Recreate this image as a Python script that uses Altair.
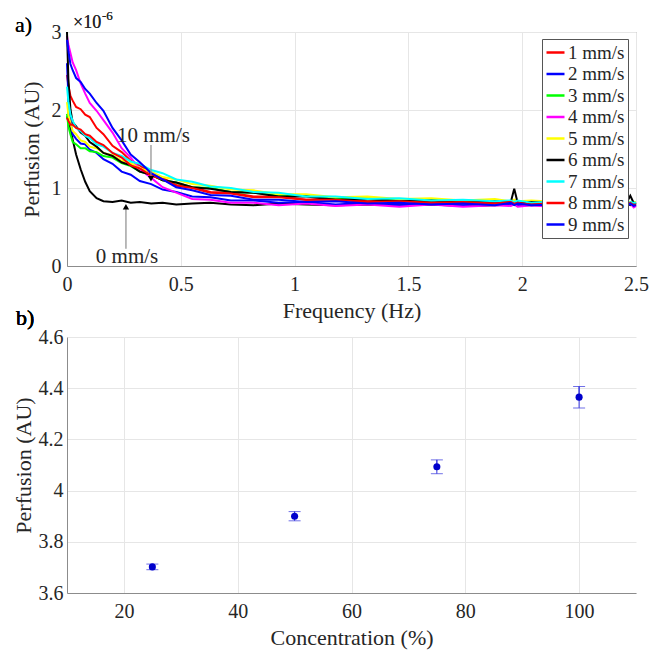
import altair as alt
import pandas as pd

FONT = "Liberation Serif, Times New Roman, serif"

# ---------------- panel a) data ----------------
FREQ_HZ = [0, 60, 150, 250, 400, 600, 800, 1000, 1300, 1600, 2000, 2400, 2800, 3200,
           3700, 4200, 4800, 5500, 6300, 7200, 8200, 9300, 10500, 11800, 13200, 14600,
           16000, 17400, 18800, 19500, 19650, 19800, 20400, 21600, 22800, 24000, 24600,
           24750, 24900, 25000]

SPEEDS = ["1 mm/s", "2 mm/s", "3 mm/s", "4 mm/s", "5 mm/s", "6 mm/s", "7 mm/s", "8 mm/s", "9 mm/s"]
COLORS = ["#ff0000", "#0000ff", "#00ff00", "#ff00ff", "#ffff00", "#000000", "#00ffff", "#ff0000", "#0000ff"]

# perfusion in units of 1e-6
V0 = [1.92, 1.86, 1.76, 1.62, 1.43, 1.24, 1.08, 0.96, 0.87, 0.83, 0.82, 0.84, 0.81, 0.82, 0.80, 0.81, 0.79, 0.80,
      0.81, 0.79, 0.78, 0.80, 0.79, 0.78, 0.79, 0.78, 0.79, 0.77, 0.78, 0.79, 0.80, 0.78, 0.78, 0.79, 0.78, 0.79,
      0.80, 0.78, 0.80, 0.79]
V1 = [2.45, 2.32, 2.18, 2.12, 2.04, 2.01, 1.94, 1.91, 1.77, 1.69, 1.54, 1.46, 1.35, 1.29, 1.19, 1.13, 1.04, 1.01,
      0.95, 0.94, 0.89, 0.89, 0.85, 0.86, 0.83, 0.84, 0.81, 0.83, 0.80, 0.82, 0.81, 0.80, 0.82, 0.79, 0.81, 0.80,
      0.79, 0.81, 0.79, 0.80]
V2 = [2.60, 2.18, 1.86, 1.69, 1.63, 1.57, 1.56, 1.49, 1.45, 1.37, 1.31, 1.21, 1.17, 1.09, 1.05, 0.98, 0.95, 0.89,
      0.88, 0.84, 0.84, 0.81, 0.82, 0.79, 0.81, 0.78, 0.80, 0.78, 0.80, 0.79, 0.81, 0.78, 0.80, 0.78, 0.80, 0.77,
      0.79, 0.80, 0.78, 0.79]
V3 = [1.95, 1.79, 1.69, 1.59, 1.56, 1.51, 1.51, 1.47, 1.46, 1.41, 1.39, 1.32, 1.28, 1.21, 1.17, 1.10, 1.07, 1.01,
      1.00, 0.95, 0.94, 0.90, 0.90, 0.86, 0.87, 0.84, 0.85, 0.83, 0.84, 0.82, 0.84, 0.81, 0.83, 0.80, 0.83, 0.80,
      0.82, 0.81, 0.80, 0.81]
V4 = [2.95, 2.84, 2.73, 2.61, 2.51, 2.34, 2.21, 2.09, 1.99, 1.87, 1.71, 1.51, 1.39, 1.24, 1.13, 1.01, 0.94, 0.86,
      0.85, 0.81, 0.81, 0.78, 0.80, 0.77, 0.79, 0.76, 0.79, 0.76, 0.78, 0.77, 0.79, 0.76, 0.78, 0.75, 0.78, 0.75,
      0.78, 0.80, 0.75, 0.77]
V5 = [2.10, 1.94, 1.83, 1.73, 1.69, 1.61, 1.59, 1.53, 1.51, 1.45, 1.42, 1.35, 1.32, 1.25, 1.21, 1.14, 1.11, 1.05,
      1.03, 0.98, 0.97, 0.92, 0.92, 0.88, 0.89, 0.86, 0.87, 0.84, 0.86, 0.83, 0.85, 0.83, 0.84, 0.82, 0.84, 0.81,
      0.83, 0.82, 0.82, 0.82]
V6 = [3.00, 2.40, 2.01, 1.84, 1.79, 1.71, 1.67, 1.59, 1.53, 1.45, 1.41, 1.33, 1.29, 1.21, 1.17, 1.10, 1.07, 1.01,
      0.99, 0.95, 0.94, 0.89, 0.89, 0.85, 0.86, 0.83, 0.84, 0.81, 0.83, 0.82, 0.99, 0.81, 0.82, 0.80, 0.81, 0.80,
      0.82, 0.90, 0.81, 0.80]
V7 = [2.30, 2.11, 1.94, 1.86, 1.77, 1.73, 1.67, 1.64, 1.56, 1.53, 1.45, 1.41, 1.34, 1.31, 1.23, 1.19, 1.11, 1.08,
      1.02, 1.00, 0.95, 0.94, 0.89, 0.89, 0.86, 0.87, 0.84, 0.85, 0.83, 0.84, 0.82, 0.84, 0.81, 0.83, 0.81, 0.82,
      0.80, 0.82, 0.81, 0.81]
V8 = [1.90, 1.86, 1.81, 1.81, 1.77, 1.75, 1.69, 1.67, 1.59, 1.55, 1.45, 1.39, 1.29, 1.25, 1.16, 1.11, 1.03, 1.00,
      0.94, 0.93, 0.88, 0.88, 0.85, 0.85, 0.82, 0.83, 0.81, 0.82, 0.80, 0.82, 0.80, 0.81, 0.79, 0.81, 0.79, 0.80,
      0.79, 0.81, 0.78, 0.79]
V9 = [2.90, 2.76, 2.59, 2.51, 2.41, 2.36, 2.27, 2.21, 2.09, 1.99, 1.77, 1.61, 1.43, 1.33, 1.19, 1.11, 1.01, 0.97,
      0.91, 0.90, 0.85, 0.85, 0.82, 0.83, 0.80, 0.81, 0.79, 0.80, 0.78, 0.81, 0.78, 0.80, 0.78, 0.79, 0.78, 0.79,
      0.77, 0.80, 0.77, 0.78]
SERIES = [V1, V2, V3, V4, V5, V6, V7, V8, V9]

# annotations (data coordinates)
ANN_TEXT = ["10 mm/s", "0 mm/s"]
ANN_TEXT_X = [3800, 2640]
ANN_TEXT_Y = [1.67, 0.12]
ARROW_X = [3690, 2590]
ARROW_TAIL_Y = [1.55, 0.22]
ARROW_HEAD_Y = [1.12, 0.76]
ARROW_SHAPE = ["triangle-down", "triangle-up"]

# ---------------- panel b) data ----------------
CONC = [25, 50, 75, 100]
PERF = [3.702, 3.900, 4.093, 4.365]
ERR = [0.011, 0.018, 0.027, 0.042]

# ---------------- build tables ----------------
rows = []
for name, vals in zip(SPEEDS, SERIES):
    for i, (f, v) in enumerate(zip(FREQ_HZ, vals)):
        rows.append({"speed": name, "f": f, "p": v, "i": i})
df = pd.DataFrame(rows)
df0 = pd.DataFrame({"f": FREQ_HZ, "p": V0, "i": list(range(len(FREQ_HZ)))})
ann = pd.DataFrame({"t": ANN_TEXT, "tx": ANN_TEXT_X, "ty": ANN_TEXT_Y, "ax": ARROW_X,
                    "a1": ARROW_TAIL_Y, "a2": ARROW_HEAD_Y, "shape": ARROW_SHAPE})
dfb = pd.DataFrame({"c": CONC, "m": PERF, "lo": [m - e for m, e in zip(PERF, ERR)],
                    "hi": [m + e for m, e in zip(PERF, ERR)]})

W = 569
H_TOP = 234
H_BOT = 256
TXT = "#262626"
GRID = "#e6e6e6"
AXC = "#8c8c8c"

xa = alt.X("f:Q", scale=alt.Scale(domain=[0, 25000], nice=False),
           axis=alt.Axis(values=[0, 5000, 10000, 15000, 20000, 25000], labelExpr="datum.value / 10000",
                         labelFlush=False, title="Frequency (Hz)", titlePadding=6, labelPadding=8))
ya = alt.Y("p:Q", scale=alt.Scale(domain=[0, 3], nice=False),
           axis=alt.Axis(values=[0, 1, 2, 3], format="~g", labelFlush=False,
                         title="Perfusion (AU)", titlePadding=8, labelPadding=6))

lines0 = alt.Chart(df0).mark_line(strokeWidth=2, color="#000000").encode(x=xa, y=ya, order="i:Q")
lines = alt.Chart(df).mark_line(strokeWidth=2).encode(
    x="f:Q", y="p:Q", order="i:Q",
    color=alt.Color("speed:N", scale=alt.Scale(domain=SPEEDS, range=COLORS),
                    legend=alt.Legend(title=None, orient="none", legendX=475, legendY=7,
                                      symbolType="stroke", symbolSize=324, symbolStrokeWidth=2.5,
                                      labelFont=FONT, labelFontSize=19, labelColor=TXT,
                                      labelOffset=2, rowPadding=0.5, padding=3,
                                      fillColor="white", strokeColor="#555555")))
arr_line = alt.Chart(ann).mark_rule(color="#8c8c8c", strokeWidth=1.2).encode(x="ax:Q", y="a1:Q", y2="a2:Q")
arr_head = alt.Chart(ann).mark_point(filled=True, color="#000000", size=40, opacity=1).encode(
    x="ax:Q", y="a2:Q", shape=alt.Shape("shape:N", scale=None))
ann_txt = alt.Chart(ann).mark_text(font=FONT, fontSize=21, color=TXT).encode(x="tx:Q", y="ty:Q", text="t:N")

exp6a = alt.Chart(ann).mark_text(font=FONT, fontSize=18, color=TXT, align="left", baseline="alphabetic").encode(
    x=alt.value(6), y=alt.value(-4), text=alt.value("×10"))
exp6b = alt.Chart(ann).mark_text(font=FONT, fontSize=13, color=TXT, align="left", baseline="alphabetic").encode(
    x=alt.value(35), y=alt.value(-12), text=alt.value("-6"))
exp4a = alt.Chart(ann).mark_text(font=FONT, fontSize=18, color=TXT, align="right", baseline="alphabetic").encode(
    x=alt.value(553), y=alt.value(49), text=alt.value("×10"))
exp4b = alt.Chart(ann).mark_text(font=FONT, fontSize=13, color=TXT, align="left", baseline="alphabetic").encode(
    x=alt.value(554), y=alt.value(39), text=alt.value("4"))
lab_a = alt.Chart(ann).mark_text(font=FONT, fontSize=22, color="#000000", align="left", baseline="alphabetic").encode(
    x=alt.value(-52), y=alt.value(0), text=alt.value("a)"))

top = alt.layer(lines0, lines, arr_line, arr_head, ann_txt, exp6a, exp6b, exp4a, exp4b, lab_a).properties(
    width=W, height=H_TOP, view=alt.ViewBackground(stroke=AXC, strokeWidth=1))

xb = alt.X("c:Q", scale=alt.Scale(domain=[10, 110], nice=False),
           axis=alt.Axis(values=[20, 40, 60, 80, 100], labelFlush=False, title="Concentration (%)",
                         titlePadding=6, labelPadding=8, domainColor=AXC))
yb = alt.Y("m:Q", scale=alt.Scale(domain=[3.6, 4.6], nice=False),
           axis=alt.Axis(values=[3.6, 3.8, 4.0, 4.2, 4.4, 4.6], format=".1~f", labelFlush=False,
                         title="Perfusion (AU)", titlePadding=3, labelPadding=4, domainColor=AXC))
BLUE = "#0000cc"
err = alt.Chart(dfb).mark_rule(color="#3333dd", strokeWidth=1).encode(x=xb, y=yb, y2="hi:Q")
err2 = alt.Chart(dfb).mark_rule(color="#3333dd", strokeWidth=1).encode(x="c:Q", y="lo:Q", y2="hi:Q")
cap_lo = alt.Chart(dfb).mark_tick(color="#3333dd", orient="horizontal", size=12, thickness=1).encode(x="c:Q", y="lo:Q")
cap_hi = alt.Chart(dfb).mark_tick(color="#3333dd", orient="horizontal", size=12, thickness=1).encode(x="c:Q", y="hi:Q")
pts = alt.Chart(dfb).mark_point(filled=True, color=BLUE, size=50, opacity=1).encode(x="c:Q", y="m:Q")
lab_b = alt.Chart(dfb).mark_text(font=FONT, fontSize=22, color="#000000", align="left", baseline="alphabetic").encode(
    x=alt.value(-51), y=alt.value(-12), text=alt.value("b)"))

bottom = alt.layer(err, err2, cap_lo, cap_hi, pts, lab_b).properties(
    width=W, height=H_BOT, view=alt.ViewBackground(strokeOpacity=0))

chart = alt.vconcat(top, bottom, spacing=71, bounds="flush").properties(
    padding={"left": 4, "top": 1, "right": 5, "bottom": 5}
).configure_axis(
    labelFont=FONT, titleFont=FONT, labelFontSize=20, titleFontSize=22, titleFontWeight="normal",
    labelColor=TXT, titleColor=TXT, gridColor=GRID, domainColor=AXC, ticks=False
).configure_view(stroke=AXC)

chart.save("out.html", embed_options={"renderer": "svg", "actions": False})
